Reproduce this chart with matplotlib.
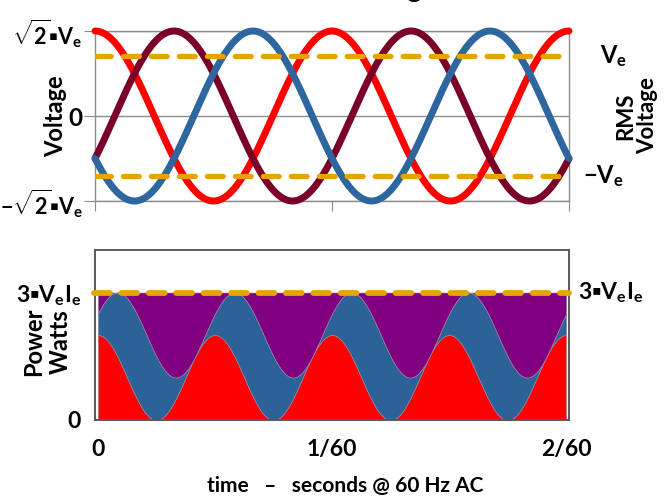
import numpy as np
import matplotlib
matplotlib.use("Agg")
import matplotlib.pyplot as plt

plt.rcParams['font.family'] = ['Lato', 'DejaVu Sans']
plt.rcParams['font.weight'] = 'bold'
plt.rcParams['mathtext.fontset'] = 'custom'
plt.rcParams['mathtext.rm'] = 'Lato:bold'
plt.rcParams['mathtext.it'] = 'Lato:bold'
plt.rcParams['mathtext.bf'] = 'Lato:bold'

# waveform parameters
freq_hz = 60.0
cycles = 2
v_peak = np.sqrt(2)          # peak voltage in units of Ve
v_rms = 1.0                  # dashed RMS lines
p_total = 3.0                # 3 * Ve * Ie
phase_names = ['red', 'maroon', 'blue']
phase_shift_deg = [0, -120, 120]
phase_colors = ['#ff0000', '#7a0028', '#2e66a0']
# stacking order in the power panel: red, blue, maroon(purple)
stack_order = [0, 2, 1]
area_colors = ['#ff0000', '#2d6298', '#800080']

x_ticks = [0, 1 / 60, 2 / 60]
x_ticklabels = ['0', '1/60', '2/60']

t_end = cycles / freq_hz
t = np.linspace(0, t_end, 600)
theta = 2 * np.pi * freq_hz * t
volts = [v_peak * np.cos(theta + np.radians(s)) for s in phase_shift_deg]
power = [volts[i] ** 2 for i in stack_order]  # Ie in phase with Ve

W, H = 666, 497
fig = plt.figure(figsize=(W / 100, H / 100), dpi=100)

gray = '#8c8c8c'
orange = '#e8a202'
fs = 16.5
dot = '\u25aa'

# ---- top: phase voltages ----
ax1 = fig.add_axes([95 / W, 1 - 201 / H, 474 / W, 170 / H])
for v, c in zip(volts, phase_colors):
    ax1.plot(t, v, color=c, lw=5, solid_capstyle='round', clip_on=False, zorder=3)
for lvl in (v_rms, -v_rms):
    ax1.plot([0, t_end], [lvl, lvl], color=orange, lw=3.8, dashes=(3.0, 2.3),
             dash_capstyle='round', zorder=4)
ax1.set_xlim(0, t_end)
ax1.set_ylim(-v_peak, v_peak)
ax1.set_yticks([-v_peak, 0, v_peak])
ax1.set_yticklabels([r'$-\sqrt{2}$' + dot + 'V$_e$', '0',
                     r'$\sqrt{2}$' + dot + 'V$_e$'], fontsize=15.5)
ax1.set_xticks(x_ticks)
ax1.set_xticklabels([])
ax1.grid(axis='y', color=gray, lw=1)
ax1.tick_params(axis='y', length=8, color=gray, pad=1)
ax1.tick_params(axis='x', length=7, color=gray)
for s in ax1.spines.values():
    s.set_color(gray)
    s.set_linewidth(1)
ax1.get_yticklabels()[1].set_fontsize(fs + 1)

fig.text(56 / W, 1 - 116 / H, 'Voltage', fontsize=17, rotation=90,
         ha='center', va='center')

ax1.text(1.065, (v_rms + v_peak) / (2 * v_peak), 'V$_e$', transform=ax1.transAxes,
         fontsize=17, ha='left', va='center')
ax1.text(1.03, (-v_rms + v_peak) / (2 * v_peak), '$-$V$_e$', transform=ax1.transAxes,
         fontsize=17, ha='left', va='center')
fig.text(637 / W, 1 - 116 / H, 'RMS\nVoltage', fontsize=16,
         rotation=90, ha='center', va='center', linespacing=1.05)

# ---- bottom: stacked power ----
ax2 = fig.add_axes([95 / W, 1 - 420 / H, 474 / W, 170 / H])
ax2.stackplot(t, *power, colors=area_colors, lw=0.4, edgecolor='#9a8aa8')
ax2.plot([-0.0003, t_end + 0.0002], [p_total, p_total], color=orange, lw=4.2,
         dashes=(2.7, 2.0), dash_capstyle='round', zorder=4, clip_on=False)
ax2.set_xlim(-0.0002, t_end + 0.0002)
ax2.set_ylim(0, 4)
ax2.set_yticks([0, p_total])
ax2.set_yticklabels(['0', '3' + dot + 'V$_e$I$_e$'], fontsize=fs)
ax2.set_xticks(x_ticks)
ax2.set_xticklabels(x_ticklabels, fontsize=fs)
ax2.tick_params(axis='y', length=0, pad=10)
ax2.tick_params(axis='x', length=0, pad=14)
for s in ax2.spines.values():
    s.set_color('#595959')
    s.set_linewidth(1.4)
fig.text(47 / W, 1 - 342 / H, 'Power\nWatts', fontsize=17, rotation=90,
         ha='center', va='center', linespacing=1.2)
ax2.text(1.02, p_total / 4, '3' + dot + 'V$_e$I$_e$', transform=ax2.transAxes,
         fontsize=fs, ha='left', va='center')

fig.text(345 / W, 1 - 486 / H, 'time   \u2013   seconds @ 60 Hz AC', fontsize=15,
         ha='center', va='center')
# title mostly cut off by the top edge in the original
fig.text(437 / W, 1 + 3 / H, 'Three Phase Voltage', fontsize=20, ha='right',
         va='baseline')

fig.savefig('out.png', dpi=100)
